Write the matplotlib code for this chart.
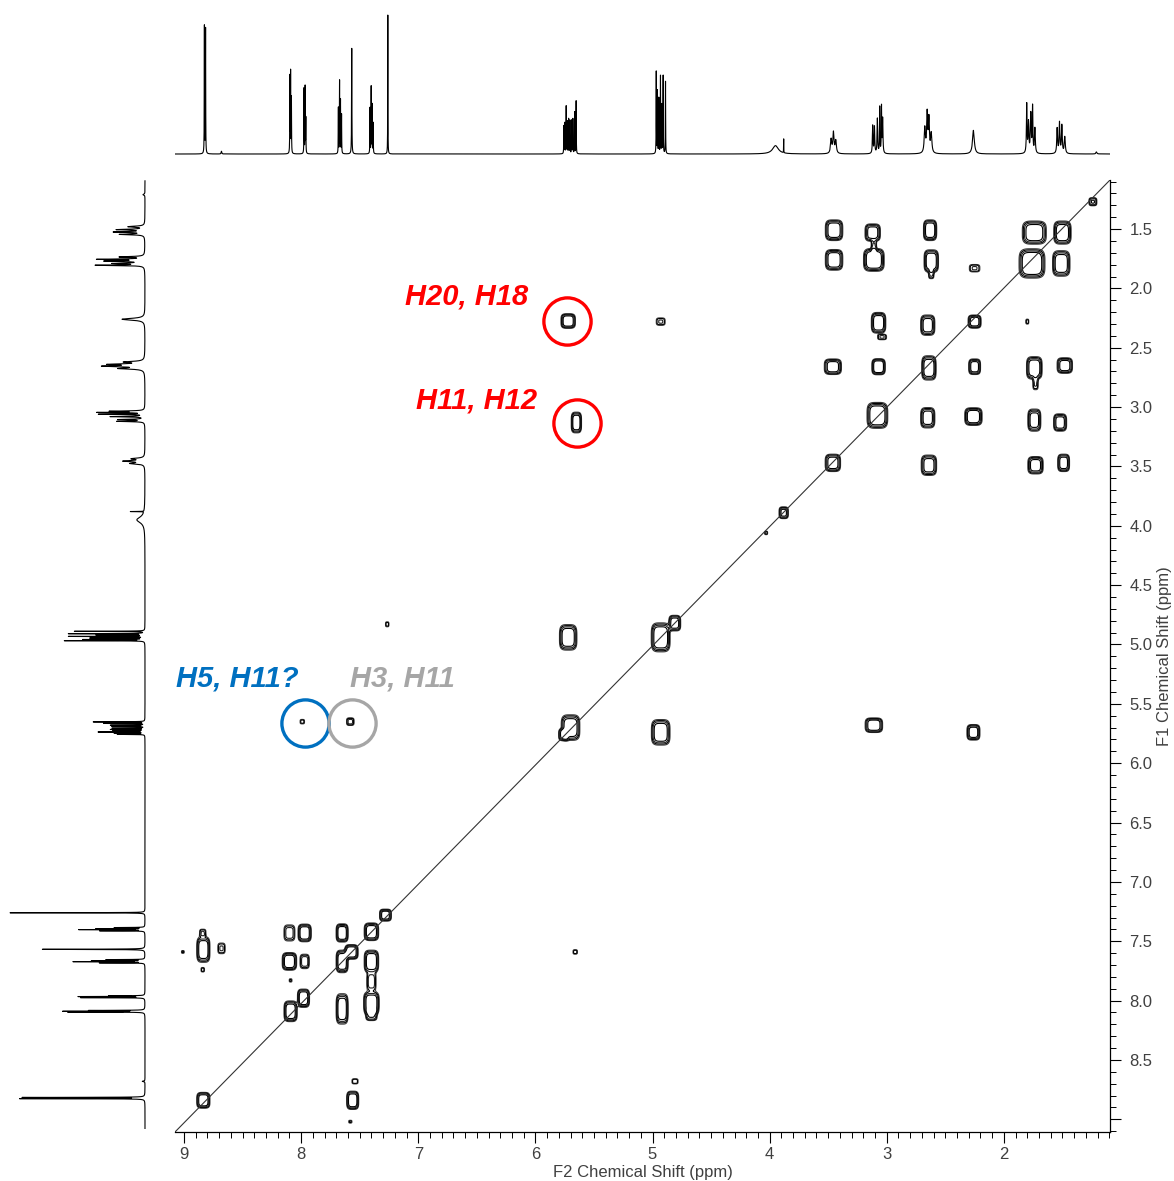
import numpy as np
import matplotlib
matplotlib.use("Agg")
import matplotlib.pyplot as plt
from matplotlib.ticker import MultipleLocator, FormatStrFormatter, FuncFormatter

plt.rcParams['font.family'] = ['Liberation Sans', 'DejaVu Sans']

# ---------------- axis ranges (ppm) ----------------
f2_range = (9.077, 1.094)
f1_range = (9.107, 1.087)
f1_last_label = 8.5

# ---------------- 1D 1H spectrum lines ----------------
h1_ppm = [8.826, 8.816, 8.68,
          8.096, 8.090, 8.083,
          7.975, 7.966, 7.960,
          7.682, 7.672, 7.664, 7.655,
          7.568,
          7.412, 7.402, 7.394, 7.385,
          7.260,
          5.757, 5.748, 5.737, 5.727, 5.716, 5.705, 5.690, 5.680, 5.665, 5.652,
          4.968, 4.958, 4.946, 4.932, 4.920, 4.909, 4.889,
          3.95, 3.88,
          3.475, 3.455, 3.435,
          3.120, 3.105, 3.080, 3.060, 3.045, 3.035,
          2.675, 2.655, 2.640, 2.620,
          2.26,
          1.805, 1.790, 1.770, 1.755, 1.735,
          1.545, 1.525, 1.505, 1.480,
          1.21]
h1_height = [0.92, 0.90, 0.02,
             0.55, 0.58, 0.40,
             0.47, 0.48, 0.25,
             0.33, 0.52, 0.38, 0.28,
             0.76,
             0.33, 0.48, 0.35, 0.22,
             1.00,
             0.20, 0.22, 0.34, 0.23, 0.25, 0.24, 0.24, 0.25, 0.30, 0.38,
             0.59, 0.45, 0.40, 0.56, 0.35, 0.56, 0.52,
             0.06, 0.10,
             0.10, 0.15, 0.09,
             0.20, 0.19, 0.25, 0.33, 0.33, 0.25,
             0.18, 0.28, 0.24, 0.14,
             0.17,
             0.35, 0.22, 0.28, 0.33, 0.18,
             0.18, 0.22, 0.20, 0.12,
             0.015]
h1_hwhm = [0.0012, 0.0012, 0.003,
           0.0012, 0.0012, 0.0012,
           0.0012, 0.0012, 0.0012,
           0.0012, 0.0012, 0.0012, 0.0012,
           0.0015,
           0.0012, 0.0012, 0.0012, 0.0012,
           0.0010,
           0.0012, 0.0012, 0.0012, 0.0012, 0.0012, 0.0012, 0.0012, 0.0012, 0.0012, 0.0012,
           0.0012, 0.0012, 0.0012, 0.0012, 0.0012, 0.0012, 0.0012,
           0.03, 0.0008,
           0.006, 0.006, 0.006,
           0.003, 0.003, 0.003, 0.002, 0.002, 0.003,
           0.006, 0.005, 0.005, 0.006,
           0.009,
           0.003, 0.004, 0.004, 0.003, 0.004,
           0.004, 0.004, 0.004, 0.005,
           0.005]

# ---------------- 2D COSY peaks: F2, F1, amplitude, full widths (ppm) ----------------
cp_f2 = [3.45, 3.12, 3.11, 2.63, 1.74, 1.50, 1.24,
         3.45, 3.11, 2.62, 2.62, 2.25, 1.76, 1.51,
         3.07, 3.04, 2.65, 2.25, 1.80,
         3.46, 3.07, 2.64, 2.25, 1.74, 1.73, 1.48,
         3.08, 2.65, 2.26, 1.74, 1.52,
         3.46, 2.64, 1.73, 1.49,
         5.72, 4.93, 5.65, 7.265, 5.72, 4.93, 4.81,
         7.99, 7.58, 5.70, 5.76, 4.93, 3.11, 2.26, 4.03, 3.88, 5.66,
         8.835, 8.84, 8.84, 9.01, 8.68,
         8.10, 7.97, 8.10, 7.97, 7.65, 7.40, 7.28, 7.65, 7.57, 7.40, 7.40,
         7.98, 8.09, 7.65, 7.40, 7.40,
         8.835, 7.56, 7.54, 7.58, 8.09]
cp_f1 = [1.51, 1.53, 1.65, 1.51, 1.53, 1.53, 1.27,
         1.76, 1.76, 1.77, 1.88, 1.83, 1.79, 1.79,
         2.29, 2.41, 2.31, 2.28, 2.28,
         2.66, 2.66, 2.67, 2.66, 2.67, 2.80, 2.65,
         3.07, 3.09, 3.08, 3.11, 3.13,
         3.47, 3.49, 3.49, 3.47,
         2.275, 2.28, 3.13, 4.83, 4.94, 4.94, 4.82,
         5.65, 5.65, 5.70, 5.76, 5.74, 5.68, 5.74, 4.06, 3.89, 7.59,
         7.57, 7.43, 7.74, 7.59, 7.56,
         7.43, 7.43, 7.67, 7.67, 7.43, 7.42, 7.28, 7.67, 7.59, 7.67, 7.84,
         7.98, 8.09, 8.07, 8.02, 8.12,
         8.84, 8.84, 8.68, 9.02, 7.83]
cp_amp = [1.0, 0.9, 0.5, 1.0, 1.0, 1.0, 0.7,
          1.0, 1.1, 1.0, 0.5, 0.5, 1.2, 1.0,
          1.0, 0.5, 0.9, 0.9, 0.4,
          0.9, 1.1, 1.0, 0.9, 1.0, 0.5, 0.9,
          1.1, 0.9, 1.0, 0.9, 0.9,
          0.9, 0.9, 0.9, 0.9,
          1.0, 0.5, 1.0, 0.4, 1.0, 1.1, 0.9,
          0.4, 0.55, 1.0, 0.7, 1.0, 1.0, 0.9, 0.4, 0.8, 0.4,
          1.0, 0.5, 0.4, 0.35, 0.5,
          0.6, 1.0, 1.0, 0.6, 1.0, 1.0, 0.9, 1.0, 1.0, 1.0, 0.6,
          1.0, 1.0, 1.0, 1.0, 0.7,
          1.0, 1.0, 0.45, 0.35, 0.35]
cp_w2 = [0.145, 0.13, 0.05, 0.11, 0.20, 0.145, 0.07,
         0.145, 0.17, 0.12, 0.05, 0.10, 0.21, 0.145,
         0.12, 0.085, 0.12, 0.11, 0.03,
         0.145, 0.11, 0.12, 0.10, 0.13, 0.05, 0.13,
         0.17, 0.12, 0.145, 0.11, 0.11,
         0.13, 0.13, 0.13, 0.10,
         0.12, 0.085, 0.085, 0.035, 0.145, 0.155, 0.10,
         0.045, 0.07, 0.155, 0.085, 0.155, 0.145, 0.11, 0.03, 0.08, 0.045,
         0.11, 0.06, 0.035, 0.03, 0.07,
         0.10, 0.11, 0.12, 0.085, 0.10, 0.12, 0.10, 0.10, 0.11, 0.12, 0.085,
         0.10, 0.11, 0.10, 0.13, 0.10,
         0.11, 0.10, 0.06, 0.035, 0.03]
cp_w1 = [0.17, 0.145, 0.12, 0.17, 0.19, 0.19, 0.07,
         0.17, 0.185, 0.185, 0.085, 0.07, 0.235, 0.21,
         0.17, 0.05, 0.17, 0.11, 0.05,
         0.13, 0.13, 0.20, 0.13, 0.185, 0.12, 0.13,
         0.21, 0.17, 0.145, 0.185, 0.145,
         0.145, 0.17, 0.145, 0.145,
         0.12, 0.07, 0.17, 0.05, 0.21, 0.235, 0.13,
         0.045, 0.07, 0.21, 0.10, 0.21, 0.12, 0.13, 0.035, 0.10, 0.045,
         0.21, 0.07, 0.045, 0.03, 0.10,
         0.145, 0.145, 0.145, 0.13, 0.15, 0.145, 0.10, 0.185, 0.12, 0.185, 0.17,
         0.15, 0.17, 0.25, 0.185, 0.10,
         0.13, 0.15, 0.05, 0.03, 0.035]

contour_levels = [0.2, 0.32, 0.48, 0.68]

# ---------------- annotations ----------------
ann_text = ["H20, H18", "H11, H12", "H5, H11?", "H3, H11"]
ann_color = ["#ff0000", "#ff0000", "#0070c0", "#a6a6a6"]
ann_text_f2 = [7.11, 7.02, 9.07, 7.58]
ann_text_f1 = [2.14, 3.01, 5.356, 5.356]
circ_f2 = [5.729, 5.647, 7.966, 7.567]
circ_f1 = [2.273, 3.138, 5.66, 5.66]

# ---------------- build data ----------------
ppm1d = np.linspace(f2_range[1], f2_range[0], 40000)
spec1d = np.zeros_like(ppm1d)
for p, h, w in zip(h1_ppm, h1_height, h1_hwhm):
    spec1d += h * w**2 / ((ppm1d - p)**2 + w**2)

xg = np.linspace(f2_range[1], f2_range[0], 1500)
yg = np.linspace(f1_range[1], f1_range[0], 1500)
Z = np.zeros((yg.size, xg.size))
for x0, y0, a, w2, w1 in zip(cp_f2, cp_f1, cp_amp, cp_w2, cp_w1):
    sx = w2 / 2.2
    sy = w1 / 2.2
    ix = np.where(np.abs(xg - x0) < 3 * sx)[0]
    iy = np.where(np.abs(yg - y0) < 3 * sy)[0]
    if ix.size == 0 or iy.size == 0:
        continue
    dx = (xg[ix] - x0) / sx
    dy = (yg[iy] - y0) / sy
    Q = dx[None, :]**4 + dy[:, None]**4
    Z[iy[0]:iy[-1] + 1, ix[0]:ix[-1] + 1] += a * np.exp(-Q)

# ---------------- figure ----------------
fig = plt.figure(figsize=(11.74, 11.81), dpi=100)
main_rect = [175 / 1174, 49 / 1181, 935 / 1174, 952 / 1181]
ax = fig.add_axes(main_rect)
axt = fig.add_axes([main_rect[0], 1023 / 1181, main_rect[2], 148 / 1181])
axl = fig.add_axes([0.0, main_rect[1], 148 / 1174, main_rect[3]])

ax.contour(xg, yg, Z, levels=contour_levels,
           colors=['#3a3a3a', 'black', '#202020', 'black'], linewidths=0.8)
ax.plot([0, 1], [0, 1], transform=ax.transAxes, color='#333333', lw=0.8)
ax.set_xlim(*f2_range)
ax.set_ylim(*f1_range)

for s in ['left', 'top']:
    ax.spines[s].set_visible(False)
ax.spines['bottom'].set_linewidth(0.9)
ax.spines['right'].set_linewidth(0.9)
ax.yaxis.tick_right()
ax.xaxis.set_major_locator(MultipleLocator(1))
ax.xaxis.set_minor_locator(MultipleLocator(0.1))
ax.yaxis.set_major_locator(MultipleLocator(0.5))
ax.yaxis.set_minor_locator(MultipleLocator(0.1))
ax.xaxis.set_major_formatter(FormatStrFormatter('%d'))
ax.yaxis.set_major_formatter(FuncFormatter(
    lambda v, pos: '%.1f' % v if v <= f1_last_label + 1e-6 else ''))
ax.tick_params(axis='both', which='major', direction='out', length=8, width=0.8,
               labelsize=12, labelcolor='#404040', pad=3)
ax.tick_params(axis='both', which='minor', direction='out', length=4, width=0.7)
ax.tick_params(axis='y', which='major', pad=6)
ax.set_xlabel('F2 Chemical Shift (ppm)', fontsize=12, color='#404040', labelpad=2)
fig.text(1165 / 1174, (1181 - 656) / 1181, 'F1 Chemical Shift (ppm)', rotation=90,
         ha='center', va='center', fontsize=12, color='#404040')

for t, c, x, y in zip(ann_text, ann_color, ann_text_f2, ann_text_f1):
    ax.text(x, y, t, color=c, fontsize=21, fontweight='bold', fontstyle='italic',
            ha='left', va='baseline')
for c, x, y in zip(ann_color, circ_f2, circ_f1):
    ax.plot([x], [y], marker='o', markersize=34, mfc='none', mec=c, mew=2.4)

# top projection
axt.plot(ppm1d, spec1d, color='black', lw=0.8)
axt.set_xlim(*f2_range)
axt.set_ylim(-4 / 139, 144 / 139)
axt.axis('off')

# left projection
axl.plot(spec1d, ppm1d, color='black', lw=0.8)
axl.set_ylim(*f1_range)
axl.set_xlim(145 / 135, -3 / 135)
axl.axis('off')

fig.savefig('out.png', dpi=100)
